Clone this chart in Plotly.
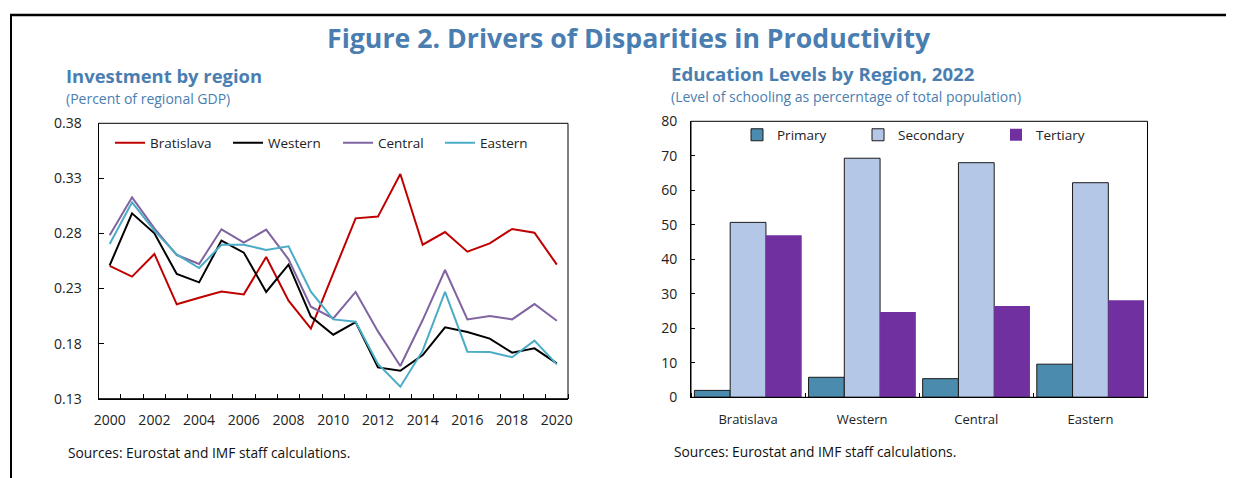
import plotly.graph_objects as go

W, H = 1234, 478
OFF = 8  # default page body margin of the written html

years = list(range(2000, 2021))
bratislava = [0.2505, 0.2408, 0.2614, 0.2157, 0.2217, 0.2272, 0.2247, 0.2586, 0.2190, 0.1936, 0.2438,
              0.2937, 0.2953, 0.3340, 0.2698, 0.2813, 0.2635, 0.2710, 0.2841, 0.2807, 0.2517]
western = [0.2511, 0.2983, 0.2801, 0.2432, 0.2356, 0.2735, 0.2626, 0.2269, 0.2517, 0.2045, 0.1881,
           0.1996, 0.1584, 0.1554, 0.1696, 0.1948, 0.1905, 0.1845, 0.1718, 0.1757, 0.1621]
central = [0.2783, 0.3128, 0.2847, 0.2604, 0.2523, 0.2838, 0.2716, 0.2835, 0.2565, 0.2135, 0.2029,
           0.2269, 0.1911, 0.1597, 0.2014, 0.2468, 0.2020, 0.2050, 0.2020, 0.2159, 0.2008]
eastern = [0.2704, 0.3083, 0.2825, 0.2610, 0.2486, 0.2698, 0.2698, 0.2650, 0.2683, 0.2272, 0.2020,
           0.1999, 0.1615, 0.1409, 0.1736, 0.2269, 0.1727, 0.1724, 0.1676, 0.1827, 0.1612]

regions = ["Bratislava", "Western", "Central", "Eastern"]
primary = [2.0, 5.8, 5.4, 9.6]
secondary = [50.7, 69.3, 68.0, 62.2]
tertiary = [47.0, 24.7, 26.5, 28.1]

BLUE = "#4A7EB1"
FONT = "Open Sans"
TICKC = "#222222"


def px(x):
    return (x - OFF) / W


def py(y):
    return 1 - (y - OFF) / H


fig = go.Figure()

# (name, values, colour, legend text start x in screen px)
line_series = [("Bratislava", bratislava, "#C00000", 150), ("Western", western, "#000000", 268),
               ("Central", central, "#8064A2", 378), ("Eastern", eastern, "#4BACC6", 480)]
legends = {}
for i, (name, vals, col, tx) in enumerate(line_series):
    lg = "legend" if i == 0 else f"legend{i + 1}"
    fig.add_trace(go.Scatter(x=years, y=vals, name=name, mode="lines",
                             line=dict(color=col, width=2), xaxis="x", yaxis="y", legend=lg))
    legends[lg] = dict(x=px(tx - 40), y=py(143))

region_idx = list(range(len(regions)))
bar_series = [("Primary", primary, "#4A8BAE", "#1a1a1a", 1, 777),
              ("Secondary", secondary, "#B4C7E7", "#1a1a1a", 1, 898),
              ("Tertiary", tertiary, "#7030A0", "#7030A0", 0, 1036)]
for j, (name, vals, col, lcol, lw, tx) in enumerate(bar_series):
    lg = f"legend{5 + j}"
    fig.add_trace(go.Bar(x=region_idx, y=vals, name=name,
                         marker=dict(color=col, line=dict(color=lcol, width=lw)),
                         xaxis="x2", yaxis="y2", legend=lg))
    legends[lg] = dict(x=px(tx - 40), y=py(135))

axis_common = dict(showgrid=False, zeroline=False, showline=True, linecolor="#000000", linewidth=1)
num_font = dict(family=FONT, size=14, color=TICKC)

fig.update_layout(
    width=W, height=H, margin=dict(l=0, r=0, t=0, b=0, pad=0, autoexpand=False),
    paper_bgcolor="white", plot_bgcolor="white",
    font=dict(family=FONT, color=TICKC),
    barmode="group", bargap=0.06, bargroupgap=0,
    xaxis=dict(domain=[px(98.5), px(568)], range=[1999.5, 2020.5], tickmode="linear", tick0=2000, dtick=2,
               ticks="", minor=dict(ticks="inside", tick0=1999.5, dtick=1, ticklen=5, tickcolor="#000000"),
               anchor="y", tickfont=num_font, ticklabelstandoff=8, mirror=False, **axis_common),
    yaxis=dict(domain=[py(398.7), py(123.3)], range=[0.13, 0.38], tickmode="linear", tick0=0.13, dtick=0.05,
               tickformat=".2f", ticks="inside", ticklen=5, tickcolor="#000000", anchor="x",
               tickfont=num_font, ticklabelstandoff=13, mirror=False, **axis_common),
    xaxis2=dict(domain=[px(691), px(1147.5)], range=[-0.5, len(regions) - 0.5],
                tickmode="array", tickvals=region_idx, ticktext=regions, ticks="",
                minor=dict(ticks="inside", tick0=-0.5, dtick=1, ticklen=4, tickcolor="#000000"),
                anchor="y2", tickfont=dict(family=FONT, size=13, color=TICKC),
                ticklabelstandoff=10, mirror=False, **axis_common),
    yaxis2=dict(domain=[py(397.3), py(121.3)], range=[0, 80], tickmode="linear", tick0=0, dtick=10,
                ticks="inside", ticklen=4, tickcolor="#000000", anchor="x2", tickfont=num_font,
                ticklabelstandoff=10, mirror=False, **axis_common),
    showlegend=True,
)

for lg, pos in legends.items():
    fig.update_layout({lg: dict(orientation="h", x=pos["x"], y=pos["y"], xanchor="left", yanchor="middle",
                                bgcolor="rgba(0,0,0,0)", borderwidth=0, itemwidth=30,
                                font=dict(family=FONT, size=13.5, color=TICKC))})

annotations = [
    dict(text="<b>Figure 2. Drivers of Disparities in Productivity</b>", x=px(629), y=py(37),
         xanchor="center", yanchor="middle", font=dict(family=FONT, size=26.7, color=BLUE)),
    dict(text="<b>Investment by region</b>", x=px(64), y=py(75), xanchor="left", yanchor="middle",
         font=dict(family=FONT, size=18.4, color=BLUE)),
    dict(text="(Percent of regional GDP)", x=px(64), y=py(98), xanchor="left", yanchor="middle",
         font=dict(family=FONT, size=14, color=BLUE)),
    dict(text="<b>Education Levels by Region, 2022</b>", x=px(669), y=py(74), xanchor="left", yanchor="middle",
         font=dict(family=FONT, size=18.6, color=BLUE)),
    dict(text="(Level of schooling as percerntage of total population)", x=px(669), y=py(96),
         xanchor="left", yanchor="middle", font=dict(family=FONT, size=14, color=BLUE)),
    dict(text="Sources: Eurostat and IMF staff calculations.", x=px(66), y=py(452), xanchor="left",
         yanchor="middle", font=dict(family=FONT, size=13.8, color="#111111")),
    dict(text="Sources: Eurostat and IMF staff calculations.", x=px(672), y=py(451), xanchor="left",
         yanchor="middle", font=dict(family=FONT, size=13.8, color="#111111")),
]
for a in annotations:
    a.update(xref="paper", yref="paper", showarrow=False)
fig.update_layout(annotations=annotations)

fig.update_layout(shapes=[
    dict(type="line", xref="paper", yref="paper", x0=px(10), x1=1, y0=py(15), y1=py(15),
         line=dict(color="#000000", width=2.5)),
    dict(type="line", xref="paper", yref="paper", x0=px(11), x1=px(11), y0=py(15), y1=0,
         line=dict(color="#000000", width=2)),
    # plot frames (top and right edges of both panels)
    dict(type="rect", xref="x domain", yref="y domain", x0=0, x1=1, y0=0, y1=1,
         line=dict(color="#000000", width=1), fillcolor="rgba(0,0,0,0)", layer="above"),
    dict(type="rect", xref="x2 domain", yref="y2 domain", x0=0, x1=1, y0=0, y1=1,
         line=dict(color="#000000", width=1), fillcolor="rgba(0,0,0,0)", layer="above"),
])

fig.write_html("out.html")
